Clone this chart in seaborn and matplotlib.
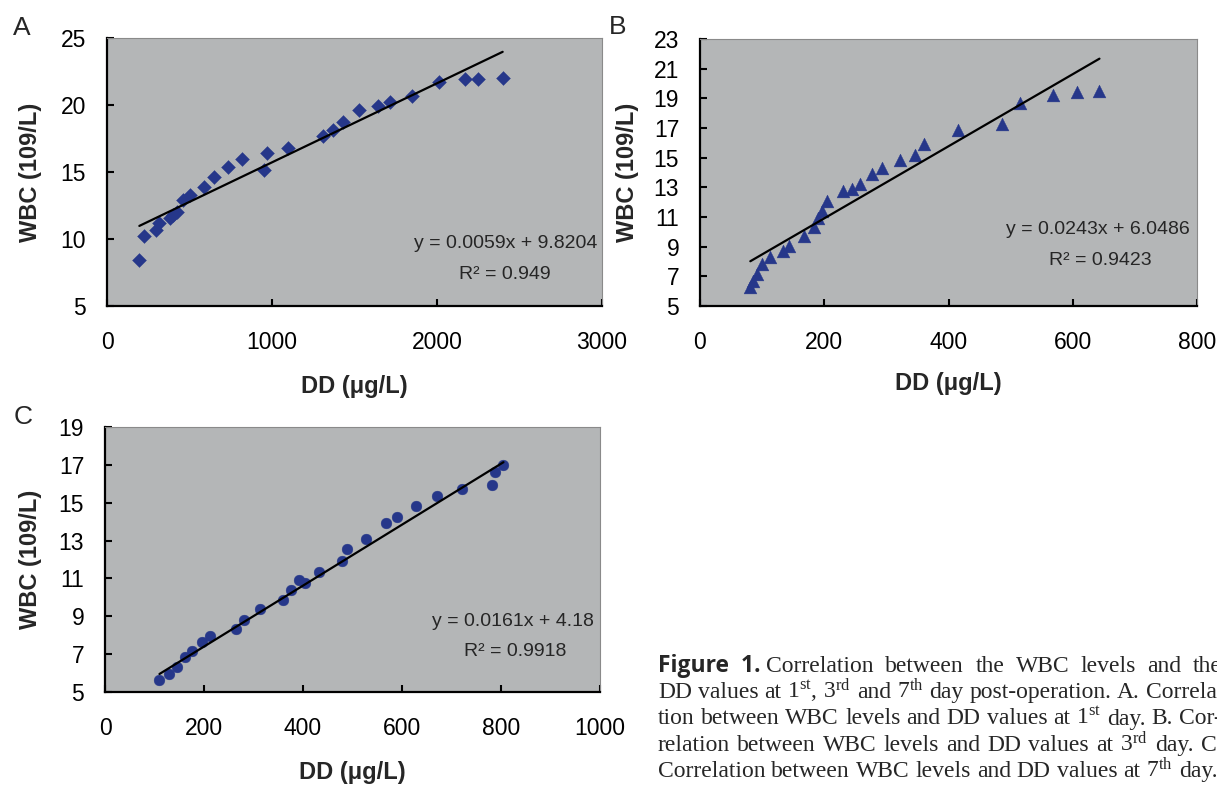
import numpy as np
import pandas as pd
import matplotlib
matplotlib.use("Agg")
import matplotlib.pyplot as plt
import seaborn as sns

# ---------------- data ----------------
# Panel A (1st day)
a_dd = [196, 226, 295, 317, 382, 402, 422, 459, 503, 588, 648, 731, 816, 953, 968,
        1099, 1311, 1372, 1428, 1527, 1640, 1715, 1846, 2014, 2169, 2250, 2398]
a_wbc = [8.4, 10.2, 10.7, 11.2, 11.6, 11.8, 12.0, 12.9, 13.3, 13.9, 14.65, 15.35, 15.97,
         15.15, 16.44, 16.8, 17.7, 18.1, 18.75, 19.6, 19.9, 20.2, 20.7, 21.74, 21.94,
         21.94, 22.04]
a_fit = (0.0059, 9.8204)
a_eq = ["y = 0.0059x + 9.8204", "R² = 0.949"]

# Panel B (3rd day)
b_dd = [81, 85, 91, 100, 112, 134, 143, 168, 183, 190, 197, 205, 230, 245, 257, 277,
        293, 322, 346, 361, 416, 486, 515, 568, 607, 643]
b_wbc = [6.3, 6.7, 7.15, 7.8, 8.3, 8.7, 9.05, 9.7, 10.3, 10.93, 11.38, 12.1, 12.75, 12.9,
         13.24, 13.88, 14.32, 14.82, 15.18, 15.94, 16.84, 17.27, 18.68, 19.24, 19.43, 19.5]
b_fit = (0.0243, 6.0486)
b_eq = ["y = 0.0243x + 6.0486", "R² = 0.9423"]

# Panel C (7th day)
c_dd = [110, 129, 146, 161, 176, 196, 213, 264, 281, 314, 360, 375, 392, 405, 432, 479,
        489, 528, 568, 590, 628, 671, 722, 782, 787, 805]
c_wbc = [5.66, 5.93, 6.31, 6.84, 7.14, 7.64, 7.96, 8.35, 8.79, 9.41, 9.88, 10.38, 10.94,
         10.77, 11.35, 11.9, 12.55, 13.1, 13.91, 14.27, 14.83, 15.33, 15.73, 15.94, 16.61,
         16.97]
c_fit = (0.0161, 4.18)
c_eq = ["y = 0.0161x + 4.18", "R² = 0.9918"]

a_xticks = [0, 1000, 2000, 3000]
a_yticks = [5, 10, 15, 20, 25]
b_xticks = [0, 200, 400, 600, 800]
b_yticks = [5, 7, 9, 11, 13, 15, 17, 19, 21, 23]
c_xticks = [0, 200, 400, 600, 800, 1000]
c_yticks = [5, 7, 9, 11, 13, 15, 17, 19]

x_label = "DD (μg/L)"
y_label = "WBC (109/L)"
panel_letters = ["A", "B", "C"]

caption_head = "Figure  1."
caption_lines = [
    "Correlation between the WBC levels and the",
    r"DD values at $1^{\mathrm{st}}$, $3^{\mathrm{rd}}$ and $7^{\mathrm{th}}$ day post-operation. A. Correla-",
    r"tion between WBC levels and DD values at $1^{\mathrm{st}}$ day. B. Cor-",
    r"relation between WBC levels and DD values at $3^{\mathrm{rd}}$ day. C.",
    r"Correlation between WBC levels and DD values at $7^{\mathrm{th}}$ day.",
]

# ---------------- style ----------------
sns.set_style("ticks")
plt.rcParams["font.family"] = ["Liberation Sans", "DejaVu Sans"]
plt.rcParams["mathtext.fontset"] = "custom"
plt.rcParams["mathtext.rm"] = "Liberation Serif"
plt.rcParams["mathtext.it"] = "Liberation Serif:italic"
plt.rcParams["mathtext.bf"] = "Liberation Serif:bold"

BG = "#b4b6b7"
NAVY = "#26378a"
SERIF = ["Liberation Serif", "DejaVu Serif"]

W, H = 1217, 785
fig = plt.figure(figsize=(W / 100, H / 100), dpi=100)


def px_axes(l, t, r, b):
    return fig.add_axes([l / W, 1 - b / H, (r - l) / W, (b - t) / H])


def panel(ax, x, y, marker, size, fit, eq, xlim, xticks, ylim, yticks,
          eqpos, r2pos, ylab_x, xlab_y):
    ax.set_facecolor(BG)
    df = pd.DataFrame({"dd": x, "wbc": y})
    sns.scatterplot(data=df, x="dd", y="wbc", marker=marker, s=size, color=NAVY,
                    edgecolor=NAVY, linewidth=0.3, ax=ax, zorder=3)
    xf = np.array([min(x), max(x)], dtype=float)
    fdf = pd.DataFrame({"dd": xf, "wbc": fit[0] * xf + fit[1]})
    sns.lineplot(data=fdf, x="dd", y="wbc", color="black", linewidth=1.6, ax=ax, zorder=4)
    ax.set_xlim(*xlim)
    ax.set_ylim(*ylim)
    ax.set_xticks(xticks)
    ax.set_yticks(yticks)
    ax.tick_params(axis="both", direction="in", length=5, width=1.5, labelsize=16.5,
                   colors="black")
    ax.tick_params(axis="x", pad=18)
    ax.tick_params(axis="y", pad=15)
    for side in ["left", "bottom"]:
        ax.spines[side].set_visible(True)
        ax.spines[side].set_linewidth(1.6)
        ax.spines[side].set_color("black")
    for side in ["top", "right"]:
        ax.spines[side].set_visible(True)
        ax.spines[side].set_linewidth(0.8)
        ax.spines[side].set_color("#8a8a8a")
    ax.set_xlabel(x_label, fontsize=17, fontweight="bold")
    ax.set_ylabel(y_label, fontsize=17, fontweight="bold")
    ax.xaxis.set_label_coords(0.5, xlab_y)
    ax.yaxis.set_label_coords(ylab_x, 0.5)
    ax.text(eqpos[0], eqpos[1], eq[0], transform=ax.transAxes, ha="right", va="center",
            fontsize=14)
    ax.text(r2pos[0], r2pos[1], eq[1], transform=ax.transAxes, ha="center", va="center",
            fontsize=14)


axA = px_axes(107, 38, 602, 306)
axB = px_axes(700, 39, 1197, 306)
axC = px_axes(105, 427, 600, 692)

panel(axA, a_dd, a_wbc, "D", 50, a_fit, a_eq, (0, 3000), a_xticks, (5, 25), a_yticks,
      (0.99, 0.235), (0.804, 0.116), -0.131, -0.258)
panel(axB, b_dd, b_wbc, "^", 85, b_fit, b_eq, (0, 800), b_xticks, (5, 23), b_yticks,
      (0.986, 0.285), (0.805, 0.170), -0.123, -0.247)
panel(axC, c_dd, c_wbc, "o", 60, c_fit, c_eq, (0, 1000), c_xticks, (5, 19), c_yticks,
      (0.988, 0.265), (0.828, 0.151), -0.127, -0.262)

# panel letters
for letter, (px, py) in zip(panel_letters, [(22, 28), (618, 27), (23, 417)]):
    fig.text(px / W, 1 - py / H, letter, fontsize=19, ha="center", va="center")

# caption (justified, runs off the right edge as in the reference)
renderer = fig.canvas.get_renderer()
FS = 17
baselines = [672, 698, 724.5, 751, 777]
cx = 658
right_px = 1222
nat_space = 0.25 * FS * 100 / 72


def place_words(words, x_start, baseline, justify):
    texts = [fig.text(0, 1 - baseline / H, w, fontsize=FS, family=SERIF, va="baseline")
             for w in words]
    widths = [t.get_window_extent(renderer).width for t in texts]
    gap = nat_space
    if justify and len(words) > 1:
        gap = max(nat_space, (right_px - x_start - sum(widths)) / (len(words) - 1))
    x = x_start
    for t, w in zip(texts, widths):
        t.set_x(x / W)
        x += w + gap


head = fig.text(cx / W, 1 - baselines[0] / H, caption_head, fontsize=16.5,
                fontweight="bold", family=["Open Sans", "DejaVu Sans"], va="baseline")
hext = head.get_window_extent(renderer)
place_words(caption_lines[0].split(" "), hext.x1 + nat_space, baselines[0], True)
for i, (line, b) in enumerate(zip(caption_lines[1:], baselines[1:])):
    place_words(line.split(" "), cx, b, i < 3)

fig.savefig("out.png", dpi=100)
